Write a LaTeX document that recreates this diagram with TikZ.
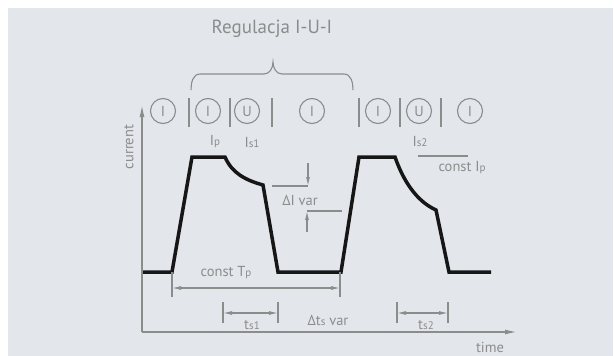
\documentclass[tikz,border=0pt]{standalone}
\usepackage{fontspec}
\setmainfont{PT Sans}
\usetikzlibrary{arrows.meta}
\definecolor{panel}{HTML}{E3E6EA}
\definecolor{ink}{HTML}{8C8C8C}
\definecolor{wave}{HTML}{161616}
\newcommand{\sub}[1]{{\fontsize{11}{11}\selectfont #1}}
\begin{document}
\begin{tikzpicture}[x=1pt,y=-1pt,
  phase/.style={circle,draw=ink,line width=1.1pt,minimum size=25pt,inner sep=0pt,text=ink,font=\fontsize{14.5}{14.5}\selectfont},
  sepline/.style={draw=ink,line width=1.3pt},
  lbl/.style={text=ink,inner sep=0pt,font=\fontsize{14.5}{14.5}\selectfont},
  tick/.style={draw=ink,line width=1.1pt},
  dimarrow/.style={draw=ink,line width=1.1pt,{Latex[length=9pt,width=4pt]}-{Latex[length=9pt,width=4pt]}},
  onearrow/.style={draw=ink,line width=1.1pt,-{Latex[length=9pt,width=4pt]}},
  axis/.style={draw=ink,line width=1.4pt,-{Latex[length=12pt,width=5pt]}},
  wavefm/.style={draw=wave,line width=3.5pt,line join=miter}
]
\useasboundingbox (0,0) rectangle (614,356);
\fill[white] (0,0) rectangle (614,356);
\fill[panel] (8,8) rectangle (613,356);

% title and brace
\node[lbl,font=\fontsize{19}{19}\selectfont] (title) at (272,29) {Regulacja I-U-I};
\draw[ink,line width=1.1pt] (191,90) to[out=90,in=180] (200,74) -- (264,74)
  to[out=0,in=-90] (273,62) to[out=-90,in=180] (282,74) -- (344,74)
  to[out=0,in=90] (353,90);

% regulation phases
\foreach \n/\x/\t in {a/163/I,b/208/I,c/247/U,d/312/I,e/378/I,f/419/U,g/470/I}
  \node[phase] (p\n) at (\x,111) {\t};
\foreach \x in {189,230,272,359,400,441}
  \draw[sepline] (\x,98) -- (\x,127);

% axes
\coordinate (origin) at (142,332);
\coordinate (ytip) at (142,105);
\coordinate (xtip) at (517,332);
\draw[axis] (origin) -- (ytip);
\draw[axis] (origin) -- (xtip);
\node[lbl,rotate=90] (ylab) at (129,147) {current};
\node[lbl] (xlab) at (490,347) {time};

% current waveform
\draw[wavefm] (143,272) -- (172,272) -- (192,157) -- (225,157)
  .. controls (232,173) and (245,180) .. (263,185) -- (278,272) -- (341,272)
  -- (359,157) -- (395,157)
  .. controls (403,180) and (416,201) .. (436,210) -- (449,272) -- (491,272);

% current labels
\node[lbl] (ip) at (215,142) {I\sub{p}};
\node[lbl] (is1) at (252,142) {I\sub{s1}};
\node[lbl] (is2) at (420,141) {I\sub{s2}};
\coordinate (cl1) at (418,156);
\coordinate (cl2) at (468,156);
\draw[tick] (cl1) -- (cl2);
\node[lbl] (cip) at (462,168) {const I\sub{p}};

% delta I
\coordinate (da1) at (272,186);
\coordinate (da2) at (308,186);
\coordinate (da0) at (308,163);
\coordinate (db1) at (307,211);
\coordinate (db2) at (342,211);
\coordinate (db0) at (307,232);
\draw[tick] (da1) -- (da2);
\draw[onearrow] (da0) -- (da2);
\draw[tick] (db1) -- (db2);
\draw[onearrow] (db0) -- (db1);
\node[lbl] (dI) at (300,200) {ΔI var};

% pulse period
\node[lbl] (ctp) at (226,273) {const T\sub{p}};
\coordinate (tp1) at (172,272);
\coordinate (tp1b) at (172,297);
\coordinate (tp2) at (340,272);
\coordinate (tp2b) at (340,297);
\draw[tick] (tp1) -- (tp1b);
\draw[tick] (tp2) -- (tp2b);
\draw[dimarrow] (172,288) -- (340,288);

% switching times
\foreach \nm/\xa/\xb in {s1/223/278,s2/397/448} {
  \coordinate (\nm a) at (\xa,302);
  \coordinate (\nm b) at (\xa,323);
  \coordinate (\nm c) at (\xb,302);
  \coordinate (\nm d) at (\xb,323);
  \draw[tick] (\nm a) -- (\nm b);
  \draw[tick] (\nm c) -- (\nm d);
  \draw[dimarrow] (\xa,313) -- (\xb,313);
}
\node[lbl] (ts1) at (252,325) {t\sub{s1}};
\node[lbl] (ts2) at (426,325) {t\sub{s2}};
\node[lbl] (dts) at (328,320) {Δt\sub{s} var};
\end{tikzpicture}
\end{document}
